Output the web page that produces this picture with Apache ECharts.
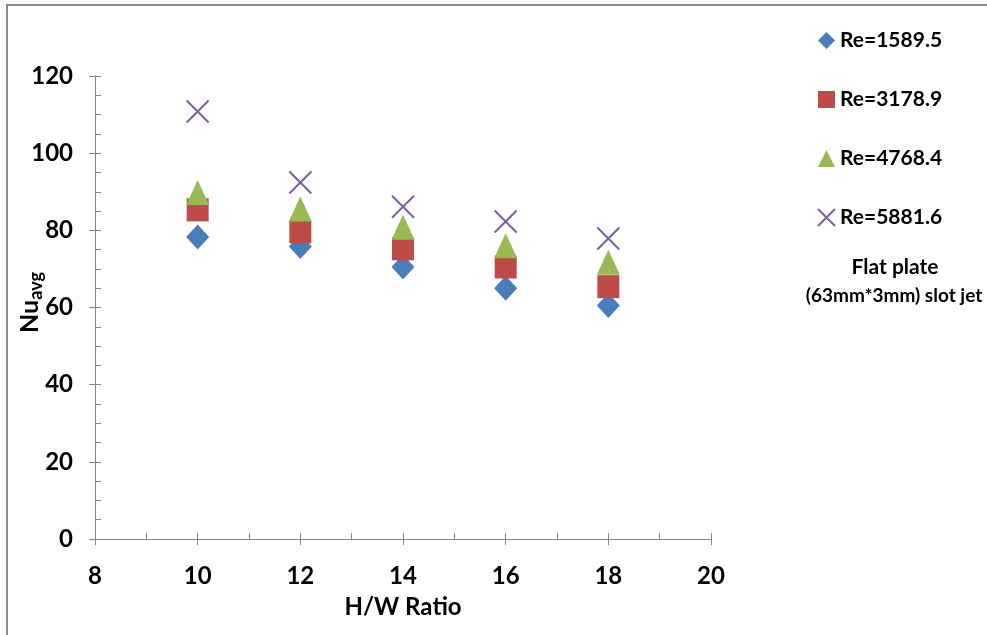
<!DOCTYPE html>
<html>
<head>
<meta charset="utf-8">
<script src="https://cdn.jsdelivr.net/npm/echarts@6/dist/echarts.min.js"></script>
<style>
  html, body { margin: 0; padding: 0; background: #fff; }
  #chart { width: 987px; height: 635px; }
</style>
</head>
<body>
<div id="chart"></div>
<script>
// H/W ratio on the x axis
var hwRatio = [10, 12, 14, 16, 18];
// Nu_avg per Reynolds number
var re1589 = [78.3, 75.8, 70.5, 65.0, 60.5];
var re3178 = [85.3, 79.6, 75.2, 70.5, 65.4];
var re4768 = [89.8, 85.5, 80.8, 76.0, 71.7];
var re5881 = [110.8, 92.4, 86.1, 82.3, 77.9];
var seriesNames = ["Re=1589.5", "Re=3178.9", "Re=4768.4", "Re=5881.6"];

var FONT = "Lato";
var axisGray = "#868686";

function pairs(ys) {
  return hwRatio.map(function (x, i) { return [x, ys[i]]; });
}

var myChart = echarts.init(document.getElementById("chart"), null, { renderer: "canvas" });

var xBase = { type: "value", min: 8, max: 20, interval: 2, splitLine: { show: false } };
var yBase = { type: "value", min: 0, max: 120, interval: 20, splitLine: { show: false } };

myChart.setOption({
  animation: false,
  backgroundColor: "#fff",
  grid: { left: 95, top: 76, right: 276, bottom: 96, outerBoundsMode: "none", containLabel: false },
  legend: {
    orient: "vertical",
    left: 812,
    top: 25,
    itemGap: 38,
    itemWidth: 17,
    itemHeight: 17,
    itemTextGap: 6,
    textStyle: { fontFamily: FONT, fontWeight: "bold", fontSize: 21, color: "#000" },
    data: seriesNames
  },
  graphic: [
    {
      type: "rect",
      shape: { x: 7, y: 5, width: 1000, height: 700 },
      style: { fill: "none", stroke: "#8c8c8c", lineWidth: 2 },
      silent: true
    },
    {
      type: "text",
      x: 895,
      y: 267,
      style: {
        text: "Flat plate",
        align: "center", verticalAlign: "middle",
        fontFamily: FONT, fontWeight: "bold", fontSize: 21, fill: "#000"
      }
    },
    {
      type: "text",
      x: 894,
      y: 296,
      style: {
        text: "(63mm*3mm) slot jet",
        align: "center", verticalAlign: "middle",
        fontFamily: FONT, fontWeight: "bold", fontSize: 19, fill: "#000"
      }
    }
  ],
  xAxis: [
    Object.assign({}, xBase, {
      name: "H/W Ratio",
      nameLocation: "middle",
      nameGap: 56,
      nameMoveOverlap: false,
      nameTextStyle: { fontFamily: FONT, fontWeight: "bold", fontSize: 24, color: "#000" },
      axisLine: { onZero: false, lineStyle: { color: axisGray, width: 1 } },
      axisTick: { show: true, inside: false, length: 6, lineStyle: { color: axisGray } },
      axisLabel: { margin: 25, fontFamily: FONT, fontWeight: "bold", fontSize: 24, color: "#000" }
    }),
    Object.assign({}, xBase, {
      position: "bottom",
      axisLine: { onZero: false, lineStyle: { color: axisGray } },
      axisTick: { show: true, inside: true, length: 6, lineStyle: { color: axisGray } },
      minorTick: { show: true, splitNumber: 2, length: 6, lineStyle: { color: axisGray } },
      axisLabel: { show: false }
    })
  ],
  yAxis: [
    Object.assign({}, yBase, {
      name: "Nu{sub|avg}",
      nameLocation: "middle",
      nameRotate: 90,
      nameGap: 50,
      nameMoveOverlap: false,
      nameTextStyle: {
        fontFamily: FONT, fontWeight: "bold", fontSize: 25, color: "#000",
        padding: [0, 0, 0, 10],
        rich: {
          sub: { fontFamily: FONT, fontWeight: "bold", fontSize: 18, color: "#000", padding: [13, 0, 0, 0] }
        }
      },
      axisLine: { show: true, onZero: false, lineStyle: { color: axisGray } },
      axisTick: { show: true, inside: false, length: 6, lineStyle: { color: axisGray } },
      axisLabel: { margin: 22, fontFamily: FONT, fontWeight: "bold", fontSize: 24, color: "#000" }
    }),
    Object.assign({}, yBase, {
      position: "left",
      axisLine: { show: true, onZero: false, lineStyle: { color: axisGray } },
      axisTick: { show: true, inside: true, length: 6, lineStyle: { color: axisGray } },
      minorTick: { show: true, splitNumber: 4, length: 6, lineStyle: { color: axisGray } },
      axisLabel: { show: false }
    })
  ],
  series: [
    {
      name: seriesNames[0],
      type: "scatter",
      symbol: "diamond",
      symbolSize: [23, 25],
      itemStyle: { color: "#4a7ebb", opacity: 1 },
      data: pairs(re1589),
      z: 2
    },
    {
      name: seriesNames[1],
      type: "scatter",
      symbol: "rect",
      symbolSize: [22, 23],
      itemStyle: { color: "#be4b48", opacity: 1 },
      data: pairs(re3178),
      z: 3
    },
    {
      name: seriesNames[2],
      type: "scatter",
      symbol: "triangle",
      symbolSize: [23, 25],
      itemStyle: { color: "#98b954", opacity: 1 },
      data: pairs(re4768),
      z: 4
    },
    {
      name: seriesNames[3],
      type: "scatter",
      symbol: "path://M0,0L10,10M10,0L0,10",
      symbolSize: 22,
      itemStyle: { color: "rgba(0,0,0,0)", borderColor: "#7d60a0", borderWidth: 2, opacity: 1 },
      data: pairs(re5881),
      z: 5
    }
  ]
});
</script>
</body>
</html>
